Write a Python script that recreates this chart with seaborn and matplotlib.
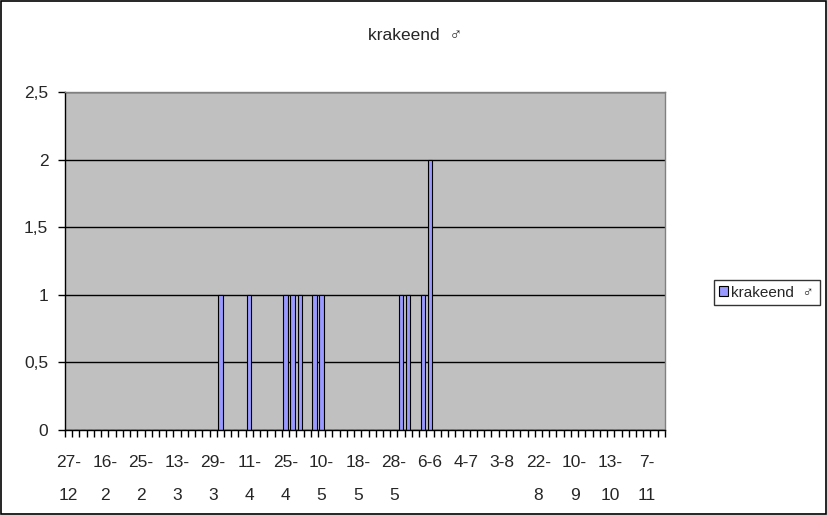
import pandas as pd
import numpy as np
import matplotlib.pyplot as plt
import seaborn as sns
from matplotlib.patches import Rectangle

# waarnemingen krakeend man, per datum (categorie-as zoals in Excel)
tick_labels = ['27-\n12', '16-\n2', '25-\n2', '13-\n3', '29-\n3', '11-\n4', '25-\n4',
               '10-\n5', '18-\n5', '28-\n5', '6-6', '4-7', '3-8', '22-\n8', '10-\n9',
               '13-\n10', '7-\n11']
label_step = 5

counts = [0, 0, 0, 0, 0, 0, 0, 0, 0, 0,
          0, 0, 0, 0, 0, 0, 0, 0, 0, 0,
          0, 1, 0, 0, 0, 1, 0, 0, 0, 0,
          1, 1, 1, 0, 1, 1, 0, 0, 0, 0,
          0, 0, 0, 0, 0, 0, 1, 1, 0, 1,
          2, 0, 0, 0, 0, 0, 0, 0, 0, 0,
          0, 0, 0, 0, 0, 0, 0, 0, 0, 0,
          0, 0, 0, 0, 0, 0, 0, 0, 0, 0,
          0, 0, 0]
series_name = 'krakeend  \u2642'

df = pd.DataFrame({'idx': range(len(counts)), 'aantal': counts})

sns.set_style('white')
plt.rcParams['font.family'] = ['Liberation Sans', 'DejaVu Sans']
fs = 12.5

fig = plt.figure(figsize=(8.28, 5.15), dpi=100)
ax = fig.add_axes([0.0785, 0.165, 0.7245, 0.6565])
ax.set_facecolor('#C0C0C0')

sns.barplot(data=df, x='idx', y='aantal', ax=ax, color='#9999FF',
            edgecolor='black', linewidth=0.8, width=0.6, saturation=1)

n = len(counts)
ax.set_xlim(-0.5, n - 0.5)
ax.set_ylim(0, 2.5)
ax.set_yticks([0, 0.5, 1, 1.5, 2, 2.5])
ax.set_yticklabels(['0', '0,5', '1', '1,5', '2', '2,5'], fontsize=fs)
ax.yaxis.grid(True, color='black', linewidth=1)
ax.set_axisbelow(True)

ax.set_xticks(range(0, label_step * len(tick_labels), label_step))
ax.set_xticklabels(tick_labels, fontsize=fs, linespacing=2.5, va='top')
ax.set_xticks(np.arange(n + 1) - 0.5, minor=True)
ax.tick_params(axis='x', which='major', length=0, pad=18)
ax.tick_params(axis='x', which='minor', length=5, width=1, color='black', direction='out', bottom=True)
ax.tick_params(axis='y', length=5, width=1, color='black', direction='out', left=True, pad=7)
ax.set_xlabel('')
ax.set_ylabel('')

for side in ['top', 'right']:
    ax.spines[side].set_color('#808080')
    ax.spines[side].set_linewidth(1)
for side in ['left', 'bottom']:
    ax.spines[side].set_color('black')
    ax.spines[side].set_linewidth(1)

fig.text(0.502, 0.932, series_name, ha='center', va='center', fontsize=fs)

handle = Rectangle((0, 0), 1, 1, facecolor='#9999FF', edgecolor='black', linewidth=0.8)
leg = fig.legend([handle], ['krakeend  \u2642'], loc='center right', bbox_to_anchor=(0.99, 0.432),
                 frameon=True, fancybox=False, fontsize=11, handlelength=0.6,
                 handleheight=0.6, handletextpad=0.2, borderpad=0.35, borderaxespad=0)
leg.get_frame().set_edgecolor('black')
leg.get_frame().set_linewidth(1)

fig.patches.append(Rectangle((0.001, 0.002), 0.997, 0.996, transform=fig.transFigure,
                             fill=False, edgecolor='black', linewidth=1.2))

fig.savefig('out.png', dpi=100)
